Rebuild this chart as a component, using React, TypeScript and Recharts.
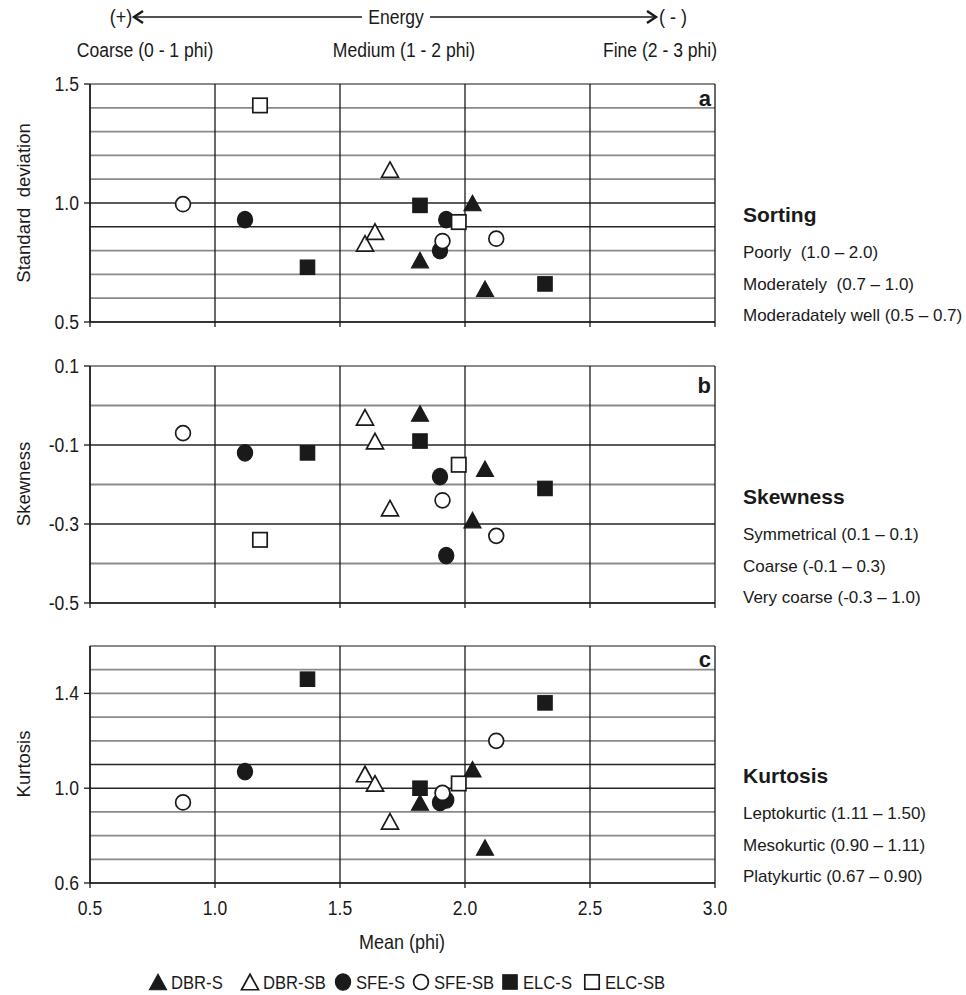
import React from 'react';
import { ScatterChart, Scatter, XAxis, YAxis, CartesianGrid } from 'recharts';

// x axis (mean grain size, phi)
const meanTicks = [0.5, 1.0, 1.5, 2.0, 2.5, 3.0];

// y axis grids / labels for each panel
const sdTicks = [0.5, 0.6, 0.7, 0.8, 0.9, 1.0, 1.1, 1.2, 1.3, 1.4, 1.5];
const sdLabels = [0.5, 1.0, 1.5];
const skewTicks = [-0.5, -0.4, -0.3, -0.2, -0.1, 0, 0.1];
const skewLabels = [-0.5, -0.3, -0.1, 0.1];
const kurtTicks = [0.6, 0.7, 0.8, 0.9, 1.0, 1.1, 1.2, 1.3, 1.4, 1.5, 1.6];
const kurtLabels = [0.6, 1.0, 1.4];

// DBR-S
const dbrSMean = [1.82, 2.03, 2.08];
const dbrSSd = [0.76, 1.0, 0.64];
const dbrSSkew = [-0.02, -0.29, -0.16];
const dbrSKurt = [0.94, 1.08, 0.75];

// DBR-SB
const dbrSbMean = [1.6, 1.64, 1.7];
const dbrSbSd = [0.83, 0.88, 1.14];
const dbrSbSkew = [-0.03, -0.09, -0.26];
const dbrSbKurt = [1.06, 1.02, 0.86];

// SFE-S
const sfeSMean = [1.12, 1.9, 1.925];
const sfeSSd = [0.93, 0.8, 0.93];
const sfeSSkew = [-0.12, -0.18, -0.38];
const sfeSKurt = [1.07, 0.94, 0.95];

// SFE-SB
const sfeSbMean = [0.872, 1.91, 2.125];
const sfeSbSd = [0.995, 0.84, 0.85];
const sfeSbSkew = [-0.07, -0.24, -0.33];
const sfeSbKurt = [0.94, 0.98, 1.2];

// ELC-S
const elcSMean = [1.37, 1.82, 2.32];
const elcSSd = [0.73, 0.99, 0.66];
const elcSSkew = [-0.12, -0.09, -0.21];
const elcSKurt = [1.46, 1.0, 1.36];

// ELC-SB (first sample falls off the kurtosis panel)
const elcSbMean = [1.18, 1.975];
const elcSbSd = [1.41, 0.92];
const elcSbSkew = [-0.34, -0.15];
const elcSbKurt = [null, 1.02];

type Kind = 'triangle' | 'circle' | 'square';

const series = [
  { name: 'DBR-S', kind: 'triangle' as Kind, filled: true, mean: dbrSMean, sd: dbrSSd, skew: dbrSSkew, kurt: dbrSKurt },
  { name: 'DBR-SB', kind: 'triangle' as Kind, filled: false, mean: dbrSbMean, sd: dbrSbSd, skew: dbrSbSkew, kurt: dbrSbKurt },
  { name: 'SFE-S', kind: 'circle' as Kind, filled: true, mean: sfeSMean, sd: sfeSSd, skew: sfeSSkew, kurt: sfeSKurt },
  { name: 'SFE-SB', kind: 'circle' as Kind, filled: false, mean: sfeSbMean, sd: sfeSbSd, skew: sfeSbSkew, kurt: sfeSbKurt },
  { name: 'ELC-S', kind: 'square' as Kind, filled: true, mean: elcSMean, sd: elcSSd, skew: elcSSkew, kurt: elcSKurt },
  { name: 'ELC-SB', kind: 'square' as Kind, filled: false, mean: elcSbMean, sd: elcSbSd, skew: elcSbSkew, kurt: elcSbKurt },
];

const REG = "'Liberation Sans', Arial, Helvetica, sans-serif";
const INK = '#1a1a1a';
const SQUEEZE = 0.9; // the figure uses a condensed face for axis text

function Mark({ cx, cy, kind, filled }: { cx: number; cy: number; kind: Kind; filled: boolean }) {
  const fill = filled ? INK : '#fff';
  const sw = filled ? 1.2 : 1.7;
  if (kind === 'triangle') {
    const w = 17, h = 15.5;
    return (
      <polygon
        points={`${cx},${cy - h / 2} ${cx + w / 2},${cy + h / 2} ${cx - w / 2},${cy + h / 2}`}
        fill={fill} stroke={INK} strokeWidth={sw} strokeLinejoin="miter"
      />
    );
  }
  if (kind === 'circle') {
    return <ellipse cx={cx} cy={cy} rx={filled ? 7.6 : 7.4} ry={filled ? 8.2 : 7.5} fill={fill} stroke={INK} strokeWidth={sw} />;
  }
  return <rect x={cx - 7.2} y={cy - 7.2} width={14.4} height={14.4} fill={fill} stroke={INK} strokeWidth={sw} />;
}

// condensed text: regular face squeezed horizontally
function NText({ x, y, anchor = 'middle', size = 19, children }: any) {
  return (
    <text transform={`translate(${x} ${y}) scale(${SQUEEZE} 1)`} textAnchor={anchor}
      fontFamily={REG} fontSize={size} fill={INK} xmlSpace="preserve">
      {children}
    </text>
  );
}

const near = (a: number, b: number) => Math.abs(a - b) < 1e-6;

interface PanelProps {
  top: number;
  plotHeight: number;
  field: 'sd' | 'skew' | 'kurt';
  domain: [number, number];
  ticks: number[];
  labels: number[];
  showX: boolean;
  dark: number[];
}

function Panel({ top, plotHeight, field, domain, ticks, labels, showX, dark }: PanelProps) {
  const xAxisH = showX ? 40 : 10;
  const height = 10 + plotHeight + xAxisH + 5;

  const hLine = (p: any) => {
    const v = ticks[p.index];
    const isDark = v !== undefined && dark.some((d) => near(d, v));
    return (
      <line key={p.key} x1={p.x1} y1={p.y1} x2={p.x2} y2={p.y2}
        stroke={isDark ? '#262626' : '#8a8a8a'} strokeWidth={isDark ? 1.5 : 1.8} />
    );
  };
  const vLine = (p: any) => (
    <line key={p.key} x1={p.x1} y1={p.y1} x2={p.x2} y2={p.y2} stroke={INK} strokeWidth={1.3} />
  );

  const xTick = (p: any) => (
    <g>
      <line x1={p.x} y1={p.y - 5} x2={p.x} y2={p.y} stroke={INK} strokeWidth={1.3} />
      {showX && <NText x={p.x} y={p.y + 27} size={19.5}>{Number(p.payload.value).toFixed(1)}</NText>}
    </g>
  );

  const yTick = (p: any) => {
    const v = Number(p.payload.value);
    if (!labels.some((l) => near(l, v))) return <g />;
    return (
      <g>
        <line x1={p.x} y1={p.y} x2={p.x + 6} y2={p.y} stroke={INK} strokeWidth={1.3} />
        <NText x={p.x - 5} y={p.y + 7} anchor="end" size={19.5}>{v.toFixed(1)}</NText>
      </g>
    );
  };

  return (
    <div style={{ position: 'absolute', left: 0, top: top - 10 }}>
      <ScatterChart width={740} height={height} margin={{ top: 10, right: 25, bottom: 5, left: 30 }}>
        <CartesianGrid horizontal={hLine} vertical={vLine} />
        <XAxis
          type="number" dataKey="x" domain={[0.5, 3]} ticks={meanTicks} interval={0}
          height={xAxisH} tickSize={5} tickMargin={0} tickLine={false}
          axisLine={{ stroke: INK, strokeWidth: 1.4 }} tick={xTick}
        />
        <YAxis
          type="number" dataKey="y" domain={domain} ticks={ticks} interval={0}
          width={60} tickSize={6} tickMargin={0} tickLine={false}
          axisLine={{ stroke: INK, strokeWidth: 1.4 }} tick={yTick}
        />
        {series.map((s) => {
          const pts = s.mean
            .map((m, i) => ({ x: m, y: (s as any)[field][i] }))
            .filter((d) => d.y !== null && d.y !== undefined);
          return (
            <Scatter
              key={s.name}
              name={s.name}
              data={pts}
              isAnimationActive={false}
              shape={(p: any) => <Mark cx={p.cx} cy={p.cy} kind={s.kind} filled={s.filled} />}
            />
          );
        })}
      </ScatterChart>
    </div>
  );
}

const sideBlocks = [
  { title: 'Sorting', y: 222, lines: ['Poorly  (1.0 \u2013 2.0)', 'Moderately  (0.7 \u2013 1.0)', 'Moderadately well (0.5 \u2013 0.7)'] },
  { title: 'Skewness', y: 504, lines: ['Symmetrical (0.1 \u2013 0.1)', 'Coarse (-0.1 \u2013 0.3)', 'Very coarse (-0.3 \u2013 1.0)'] },
  { title: 'Kurtosis', y: 783, lines: ['Leptokurtic (1.11 \u2013 1.50)', 'Mesokurtic (0.90 \u2013 1.11)', 'Platykurtic (0.67 \u2013 0.90)'] },
];

const yTitles = [
  { text: 'Standard  deviation', y: 203 },
  { text: 'Skewness', y: 484 },
  { text: 'Kurtosis', y: 764 },
];

const panelLetters = [
  { text: 'a', y: 106 },
  { text: 'b', y: 393 },
  { text: 'c', y: 667 },
];

// legend slot centres along the bottom row
const legendX = [158, 250, 343, 421, 510, 592];

export default function App() {
  return (
    <div style={{ position: 'absolute', left: 0, top: 0, width: 966, height: 995, background: '#fff' }}>
      <Panel top={84} plotHeight={238} field="sd" domain={[0.5, 1.5]} ticks={sdTicks} labels={sdLabels} showX={false} dark={[1.0, 0.9]} />
      <Panel top={366} plotHeight={237} field="skew" domain={[-0.5, 0.1]} ticks={skewTicks} labels={skewLabels} showX={false} dark={[-0.1, -0.3]} />
      <Panel top={646} plotHeight={237} field="kurt" domain={[0.6, 1.6]} ticks={kurtTicks} labels={kurtLabels} showX={true} dark={[1.1, 1.0]} />

      <svg width={966} height={995} style={{ position: 'absolute', left: 0, top: 0, pointerEvents: 'none' }}>
        {/* energy header */}
        <NText x={121} y={24} size={20}>(+)</NText>
        <NText x={396} y={24} size={19.5}>Energy</NText>
        <NText x={673} y={24} size={20}>( - )</NText>
        <NText x={145} y={57} size={19.5}>Coarse (0 - 1 phi)</NText>
        <NText x={404} y={57} size={19.5}>Medium (1 - 2 phi)</NText>
        <NText x={660} y={57} size={19.5}>Fine (2 - 3 phi)</NText>
        <NText x={402} y={949} size={20}>Mean (phi)</NText>
        <g stroke={INK} fill="none" strokeWidth={1.3}>
          <line x1={134} y1={17} x2={362} y2={17} />
          <polyline points="143,11 134,17 143,23" strokeWidth={2.4} />
          <line x1={430} y1={17} x2={656} y2={17} />
          <polyline points="647,11 656,17 647,23" strokeWidth={2.4} />
        </g>

        {yTitles.map((t) => (
          <text key={t.text} x={23} y={t.y} transform={`rotate(-90 23 ${t.y})`} textAnchor="middle"
            dy="0.36em" fontFamily={REG} fontSize={18.5} fill={INK} xmlSpace="preserve">
            {t.text}
          </text>
        ))}

        {panelLetters.map((l) => (
          <text key={l.text} x={711} y={l.y} textAnchor="end" fontFamily={REG} fontWeight="bold" fontSize={22} fill={INK}>
            {l.text}
          </text>
        ))}

        {sideBlocks.map((b) => (
          <g key={b.title} fontFamily={REG} fill={INK}>
            <text x={743} y={b.y} fontSize={21} fontWeight="bold">{b.title}</text>
            {b.lines.map((ln, i) => (
              <text key={ln} x={743} y={b.y + 36 + i * 31.5} fontSize={17} xmlSpace="preserve">{ln}</text>
            ))}
          </g>
        ))}

        {/* legend */}
        {series.map((s, i) => (
          <g key={s.name}>
            <Mark cx={legendX[i]} cy={982} kind={s.kind} filled={s.filled} />
            <NText x={legendX[i] + 13} y={989} anchor="start" size={18.5}>{s.name}</NText>
          </g>
        ))}
      </svg>
    </div>
  );
}
